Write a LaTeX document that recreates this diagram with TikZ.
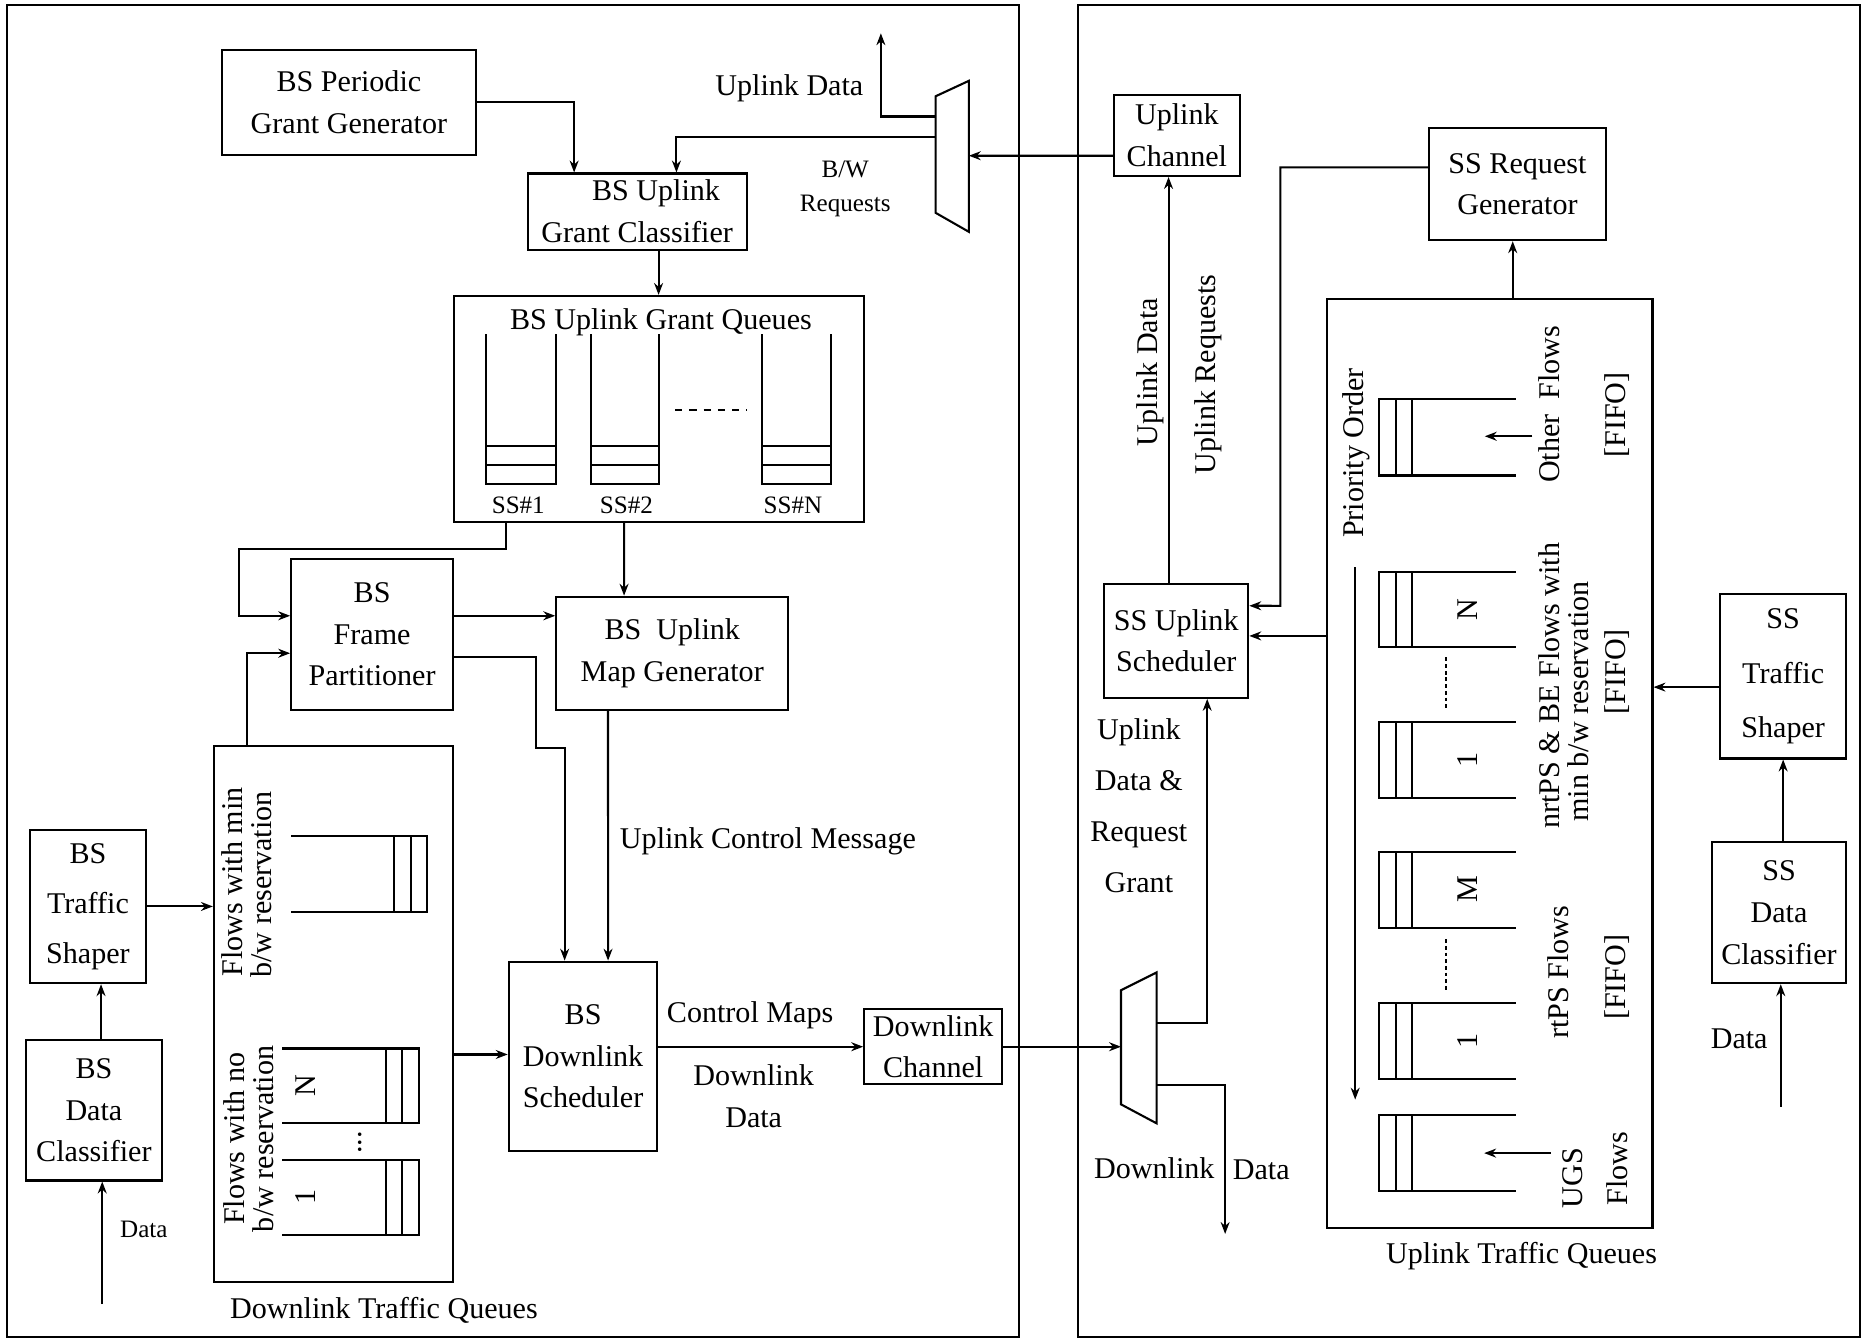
\documentclass[tikz,border=0pt]{standalone}
\usepackage{fontspec}
\setmainfont{Liberation Serif}
\usetikzlibrary{arrows.meta,calc}

\begin{document}
\begin{tikzpicture}[x=0.01cm, y=-0.01cm, >={Stealth[length=1mm,width=0.75mm]}, line width=0.5pt,
  font=\fontsize{7.2}{10}\selectfont,
  box/.style={draw, align=center, inner sep=1pt},
  smalltxt/.style={font=\fontsize{6}{8}\selectfont, align=center},
  side/.style={rotate=90}]
\useasboundingbox (0,0) rectangle (1568,1127);

% the two panels
\draw (6,4) rectangle (857,1125);
\draw (907,4) rectangle (1565,1125);

% BS boxes
\node[box, minimum width=2.13cm, minimum height=0.88cm] (periodic) at (293.5,86) {BS Periodic\\Grant Generator};
\node[box, minimum width=1.84cm, minimum height=0.64cm] (classifier) at (536,178) {\hspace*{9pt}BS Uplink\\Grant Classifier};
\node[box, minimum width=3.45cm, minimum height=1.90cm] (grantq) at (554.5,344) {};
\node (grantqt) at (556,271) {BS Uplink Grant Queues};
\node[box, minimum width=1.36cm, minimum height=1.27cm] (partitioner) at (313,533.5) {BS\\Frame\\Partitioner};
\node[box, minimum width=1.95cm, minimum height=0.95cm] (mapgen) at (565.5,549.5) {BS\ \ Uplink\\Map Generator};
\node[box, minimum width=2.01cm, minimum height=4.50cm] (dlqueues) at (280.5,853) {};
\node (dlqueuest) at (323,1102) {Downlink Traffic Queues};
\node[box, minimum width=0.98cm, minimum height=1.29cm] (bsshaper) at (74,762.5) {BS\\[2pt]Traffic\\[2pt]Shaper};
\node[box, minimum width=1.14cm, minimum height=1.18cm] (bsclass) at (79,934) {BS\\Data\\Classifier};
\node[box, minimum width=1.25cm, minimum height=1.59cm] (dlsched) at (490.5,888.5) {BS\\Downlink\\Scheduler};
\node[box, minimum width=1.16cm, minimum height=0.63cm] (dlchan) at (785,880.5) {Downlink\\Channel};

% SS boxes
\node[box, minimum width=1.06cm, minimum height=0.68cm] (ulchan) at (990,114) {Uplink\\Channel};
\node[box, minimum width=1.49cm, minimum height=0.94cm] (reqgen) at (1276.5,155) {SS Request\\Generator};
\node[box, minimum width=1.21cm, minimum height=0.96cm] (ulsched) at (989.5,539) {SS Uplink\\Scheduler};
\node[box, minimum width=2.74cm, minimum height=7.81cm] (ulqueues) at (1253,642.5) {};
\node (ulqueuest) at (1280,1057) {Uplink Traffic Queues};
\node[box, minimum width=1.06cm, minimum height=1.38cm] (ssshaper) at (1500,569) {SS\\[3pt]Traffic\\[3pt]Shaper};
\node[box, minimum width=1.13cm, minimum height=1.19cm] (ssclass) at (1496.5,767.5) {SS\\Data\\Classifier};

% muxes
\draw (787,81) -- (815,68) -- (815,195) -- (787,179) -- cycle;
\draw (943,833) -- (973,818) -- (973,945) -- (943,929) -- cycle;
\coordinate (m1a) at (787,98);
\coordinate (m1b) at (787,115);
\coordinate (m1r) at (815,131);
\coordinate (updata) at (741,28);
\coordinate (m2l) at (943,881);
\coordinate (m2u) at (973,860.6);
\coordinate (m2d) at (973,912.4);
\coordinate (dldata) at (1030.6,1038);
\coordinate (bsdata) at (86,1097);
\coordinate (ssdata) at (1498,931);

% grant queues
\foreach \xa/\xb/\nm/\xl in {409/468/1/436, 497/554/2/527, 641/699/N/667} {
  \draw (\xa,281) -- (\xa,407) -- (\xb,407) -- (\xb,281);
  \draw (\xa,375) -- (\xb,375) (\xa,391) -- (\xb,391);
  \node[smalltxt] (ss\nm) at (\xl,425) {SS\#\nm};
}
\draw[dash pattern=on 1.7pt off 1.7pt] (568,345) -- (628,345);

% downlink queues
\foreach \xa/\xb/\ya/\yb in {245/359.5/703/767, 237.5/352.4/882/945, 237.5/352.4/976/1039} {
  \draw (\xa,\ya) -- (\xb,\ya) -- (\xb,\yb) -- (\xa,\yb);
  \draw (\xb-14,\ya) -- (\xb-14,\yb) (\xb-28,\ya) -- (\xb-28,\yb);
}
\node[side] (minA) at (195,742) {Flows with min};
\node[side] (minB) at (220,744) {b/w reservation};
\node[side] (noA) at (197,958) {Flows with no};
\node[side] (noB) at (221,958) {b/w reservation};
\node[side] (dqN) at (257,913) {N};
\node[side] (dq1) at (257,1007) {1};
\node[side] (dqdots) at (302.6,961) {...};

% uplink queues
\foreach \ya/\yb in {336/400, 481/544, 607/671, 717/781, 844/908, 938/1002} {
  \draw (1275,\ya) -- (1160,\ya) -- (1160,\yb) -- (1275,\yb);
  \draw (1174,\ya) -- (1174,\yb) (1188,\ya) -- (1188,\yb);
}
\draw[dash pattern=on 0.9pt off 0.7pt] (1216.5,553) -- (1216.5,598);
\draw[dash pattern=on 0.9pt off 0.7pt] (1216.5,790) -- (1216.5,835);
\node[side] (uqN) at (1234.6,513) {N};
\node[side] (uq1a) at (1234.6,639) {1};
\node[side] (uqM) at (1234.6,748) {M};
\node[side] (uq1b) at (1234.6,876) {1};
\coordinate (otherin) at (1289,367);
\coordinate (ugsin) at (1304.5,970);
\draw[->] (otherin) -- ++(-40,0);
\draw[->] (ugsin) -- ++(-56,0);
\coordinate (prtop) at (1140,477);
\coordinate (prbot) at (1140,925);
\draw[->] (prtop) -- (prbot);
\node[side] (prio) at (1141,381) {Priority Order};
\node[side] (other) at (1303.6,340) {Other\ \ Flows};
\node[side] (fifoA) at (1360,349) {[FIFO]};
\node[side] (nrtA) at (1303,577) {nrtPS \& BE Flows with};
\node[side] (nrtB) at (1328,590) {min b/w reservation};
\node[side] (fifoB) at (1360,565) {[FIFO]};
\node[side] (rtps) at (1311,818) {rtPS Flows};
\node[side] (fifoC) at (1360,822) {[FIFO]};
\node[side] (ugs) at (1323,991) {UGS};
\node[side] (ugsfl) at (1360,983) {Flows};

% BS connectors
\draw[->] (periodic.east) -| ([xshift=-0.53cm]classifier.north);
\draw[->] (m1a) -| (updata);
\draw[->] (m1b) -| ([xshift=0.33cm]classifier.north);
\draw[->] ([yshift=-0.17cm]ulchan.west) -- (m1r);
\draw[->] ([xshift=0.18cm]classifier.south) -- ([xshift=0.18cm]classifier.south |- grantq.north);
\draw[->] ([xshift=-1.285cm]grantq.south) |- (201,462) |- ([yshift=0.155cm]partitioner.west);
\draw[->] ([xshift=-0.725cm]dlqueues.north) |- ([yshift=-0.16cm]partitioner.west);
\draw[->] ([xshift=-0.295cm]grantq.south) -- ([xshift=-0.405cm]mapgen.north);
\draw[->] ([yshift=0.155cm]partitioner.east) -- ([yshift=0.155cm]partitioner.east -| mapgen.west);
\draw[->] ([yshift=-0.195cm]partitioner.east) -| (451,629) -| ([xshift=-0.155cm]dlsched.north);
\draw[->] ([xshift=-0.54cm]mapgen.south) -- ([xshift=0.21cm]dlsched.north);
\draw[->] (bsshaper.east) -- (bsshaper.east -| dlqueues.west);
\draw[->] ([xshift=0.06cm]bsclass.north) -- ([xshift=0.06cm]bsclass.north |- bsshaper.south);
\draw[->] (bsdata) -- (bsdata |- bsclass.south);
\draw[->] ([yshift=-0.34cm]dlqueues.east) -- ([yshift=-0.34cm]dlqueues.east -| dlsched.west);
\draw[->] (dlsched.east |- dlchan.west) -- (dlchan.west);
\draw[->] (dlchan.east) -- (dlchan.east -| m2l);

% SS connectors
\draw[->] (m2u) -| ([xshift=0.26cm]ulsched.south);
\draw[->] (m2d) -| (dldata);
\draw[->] ([xshift=-0.065cm]ulsched.north) -- ([xshift=-0.065cm]ulsched.north |- ulchan.south);
\draw[->] ([yshift=0.142cm]reqgen.west) -| (1077,509.6) -- ([yshift=0.294cm]ulsched.east);
\draw[->] ([yshift=1.075cm]ulqueues.west) -- ([yshift=1.075cm]ulqueues.west -| ulsched.east);
\draw[->] ([xshift=0.195cm]ulqueues.north) -- ([xshift=0.195cm]ulqueues.north |- reqgen.south);
\draw[->] ([yshift=-0.09cm]ssshaper.west) -- ([yshift=-0.09cm]ssshaper.west -| ulqueues.east);
\draw[->] ([xshift=0.035cm]ssclass.north) -- ([xshift=0.035cm]ssclass.north |- ssshaper.south);
\draw[->] (ssdata) -- (ssdata |- ssclass.south);

% labels
\node (updatat) at (664,74) {Uplink Data};
\node[smalltxt] (bwreq) at (711,159) {B/W\\Requests};
\node (ucm) at (646,708) {Uplink Control Message};
\node (cmaps) at (631,854) {Control Maps};
\node[align=center] (dldatat) at (634,922) {Downlink\\Data};
\node[smalltxt] (bsdatat) at (121,1034) {Data};
\node[side] (uldatat) at (968,313) {Uplink Data};
\node[side] (ulreqt) at (1016,315) {Uplink Requests};
\node[align=center, font=\fontsize{7.2}{12.2}\selectfont] (grantt) at (958,678) {Uplink\\Data \&\\Request\\Grant};
\node (dldA) at (971,983) {Downlink};
\node (dldB) at (1061,984) {Data};
\node (ssdatat) at (1463,874) {Data};
\end{tikzpicture}
\end{document}
